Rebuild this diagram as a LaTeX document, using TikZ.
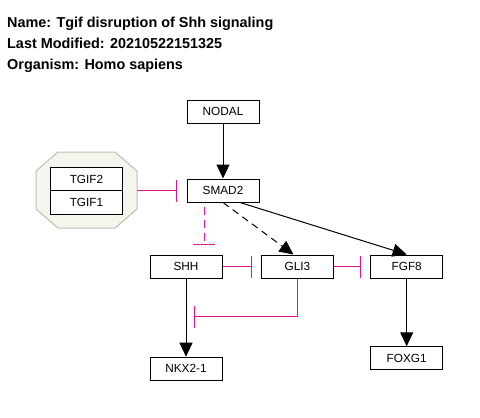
\documentclass[tikz,border=0pt]{standalone}
\usepackage{fontspec}
\setmainfont{Liberation Sans}
\usetikzlibrary{arrows.meta}
\definecolor{inhpink}{RGB}{228,20,140}
\definecolor{grpfill}{RGB}{245,245,238}
\definecolor{grpdraw}{RGB}{190,190,180}
\tikzset{
  gene/.style={draw=black, line width=1pt, fill=white, minimum width=72pt, minimum height=23pt, inner sep=0pt, font=\fontsize{11.8}{13}\selectfont},
  titletext/.style={anchor=base west, inner sep=0pt, font=\fontsize{14.4}{16}\selectfont\bfseries},
  act/.style={draw=black, line width=1pt, -{Triangle[length=14pt,width=13pt]}},
  inh/.style={draw=inhpink, line width=1pt, -{Bar[width=22pt,line width=1pt]}},
  dashline/.style={dash pattern=on 8pt off 5pt, dash phase=8.3pt},
}
\begin{document}
\begin{tikzpicture}[x=1pt,y=-1pt]
\useasboundingbox (0,0) rectangle (480,418);
\node[titletext] (t1) at (7,27.3) {Name: Tgif disruption of Shh signaling};
\node[titletext] (t2) at (7,48.3) {Last Modified: 20210522151325};
\node[titletext] (t3) at (7,69) {Organism: Homo sapiens};

% group octagon
\draw[grpdraw, fill=grpfill, line width=1pt]
  (58,152) -- (115,152) -- (137,171) -- (137,209) -- (115,228) -- (58,228) -- (36,209) -- (36,171) -- cycle;
\coordinate (grp) at (137,190.5);

\node[gene, minimum width=71.5pt, minimum height=23.5pt] (tgif2) at (86.5,179) {TGIF2};
\node[gene, minimum width=71.5pt, minimum height=23.5pt] (tgif1) at (86.5,202.5) {TGIF1};

\node[gene] (nodal) at (223,111.5) {NODAL};
\node[gene] (smad) at (223,190.5) {SMAD2};
\node[gene] (shh) at (186,266.5) {SHH};
\node[gene] (gli) at (297.5,266.5) {GLI3};
\node[gene] (fgf) at (406.7,266.5) {FGF8};
\node[gene] (nkx) at (186,368.7) {NKX2-1};
\node[gene] (foxg) at (406.7,358.3) {FOXG1};

\draw[act] (nodal) -- (smad);
\draw[inh, shorten >=10pt] (grp) -- (smad.west);
% dashed inhibition SMAD2 -> SHH (dashed shaft, solid bar)
\draw[draw=inhpink, line width=1pt, dashline, shorten >=10.5pt] ([xshift=-19pt]smad.south) -- ([xshift=-19pt]smad.south |- shh.north);
\draw[draw=inhpink, line width=1pt] ([xshift=-30pt,yshift=10.5pt]smad.south |- shh.north) -- ([xshift=-8pt,yshift=10.5pt]smad.south |- shh.north);
\draw[act, dash pattern=on 7pt off 5pt] (smad.south) -- ([xshift=-4pt]gli.north);
\draw[act] ([xshift=17pt]smad.south) -- (fgf.north);
\draw[inh, shorten >=9.5pt] (shh.east) -- (gli.west);
\draw[inh, shorten >=9.5pt] (gli.east) -- (fgf.west);
\draw[act] (shh) -- (nkx);
\draw[act] (fgf) -- (foxg);
\coordinate (elb) at (186,316.7);
\draw[inh, shorten >=8pt] (gli.south) |- (elb);
\end{tikzpicture}
\end{document}
